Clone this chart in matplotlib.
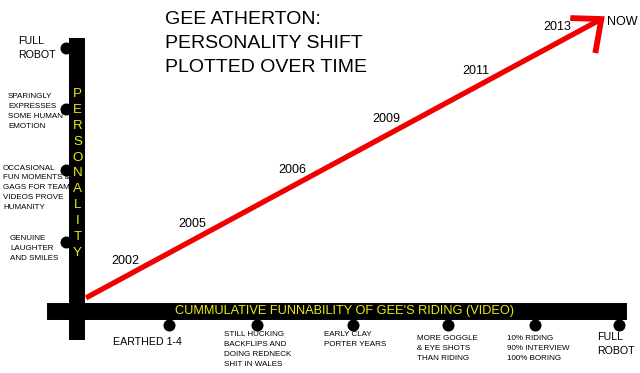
import matplotlib
matplotlib.use("Agg")
import matplotlib.pyplot as plt
from matplotlib.transforms import ScaledTranslation

plt.rcParams["font.family"] = ["Liberation Sans", "DejaVu Sans"]

# --- data ------------------------------------------------------------------
stage_labels = ["EARTHED 1-4",
                "STILL HUCKING\nBACKFLIPS AND\nDOING REDNECK\nSHIT IN WALES",
                "EARLY CLAY\nPORTER YEARS",
                "MORE GOGGLE\n& EYE SHOTS\nTHAN RIDING",
                "10% RIDING\n90% INTERVIEW\n100% BORING",
                "FULL\nROBOT"]
stage_values = [1.02, 1.99, 3.05, 4.10, 5.07, 6.0]

level_labels = ["GENUINE\nLAUGHTER\nAND SMILES",
                "OCCASIONAL\nFUN MOMENTS &\nGAGS FOR TEAM\nVIDEOS PROVE\nHUMANITY",
                "SPARINGLY\nEXPRESSES\nSOME HUMAN\nEMOTION",
                "FULL\nROBOT"]
level_values = [1.05, 2.14, 3.07, 4.0]

years = ["2002", "2005", "2006", "2009", "2011", "2013"]
year_funnability = [0.53, 1.28, 2.38, 3.42, 4.41, 5.31]

trend_funnability = [0.10, 5.80]
trend_personality = [0.20, 4.44]

title = "GEE ATHERTON:\nPERSONALITY SHIFT\nPLOTTED OVER TIME"
x_title = "CUMMULATIVE FUNNABILITY OF GEE'S RIDING (VIDEO)"
y_title = "PERSONALITY"

# --- layout -----------------------------------------------------------------
W, H = 640, 373
fig = plt.figure(figsize=(W / 100, H / 100), dpi=100)
ax = fig.add_axes([0, 0, 1, 1])
ax.axis("off")
# origin of the chart at pixel (77, 311); 90.4 px per stage, 65.75 px per level
ax.set_xlim(-77 / 90.4, (W - 77) / 90.4)
ax.set_ylim((311 - H) / 65.75, 311 / 65.75)

YELLOW = "#ecec10"
RED = "#f20000"


def fpos(px, py):
    return px / W, 1 - py / H


def block(lines, px, py, dy, size, **kw):
    for i, s in enumerate(lines.split("\n")):
        fig.text(*fpos(px, py + i * dy), s, fontsize=size, va="center",
                 transform=fig.transFigure, **kw)


# black axis bars
ax.plot([0, 0], [-0.32, level_values[-1] + 0.03], color="black", lw=11.5,
        solid_capstyle="projecting", zorder=2)
ax.plot([-0.24, stage_values[-1] - 0.02], [0, 0], color="black", lw=12.2,
        solid_capstyle="projecting", zorder=2)

# tick dots
off_left = ax.transData + ScaledTranslation(-0.11, 0, fig.dpi_scale_trans)
off_down = ax.transData + ScaledTranslation(0, -0.14, fig.dpi_scale_trans)
ax.scatter([0] * len(level_values), level_values, s=75, color="black",
           transform=off_left, zorder=2, linewidths=0)
ax.scatter(stage_values, [0] * len(stage_values), s=75, color="black",
           transform=off_down, zorder=2, linewidths=0)

# red trend line with hand-drawn arrow head
ax.plot(trend_funnability, trend_personality, color=RED, lw=3.8,
        solid_capstyle="butt", zorder=3)
fig.canvas.draw()
tip = ax.transData.transform((trend_funnability[-1], trend_personality[-1]))
inv = ax.transData.inverted()
arm1 = inv.transform(tip + (-31, 1))
arm2 = inv.transform(tip + (-6, -34))
tipd = (trend_funnability[-1], trend_personality[-1])
ax.plot([arm1[0], tipd[0], arm2[0]], [arm1[1], tipd[1], arm2[1]],
        color=RED, lw=4.2, solid_joinstyle="miter", solid_capstyle="butt",
        zorder=3)

# year labels above the line
slope = (trend_personality[1] - trend_personality[0]) / (trend_funnability[1] - trend_funnability[0])
for yr, xf in zip(years, year_funnability):
    yl = trend_personality[0] + slope * (xf - trend_funnability[0])
    ax.annotate(yr, (xf, yl), xytext=(0, 16), textcoords="offset pixels",
                ha="center", va="center", fontsize=9)
fig.text(*fpos(607, 22), "NOW", fontsize=9, va="center")

# title
block(title, 165, 19.5, 24, 14)

# axis titles in yellow
fig.text(*fpos(345, 311), x_title, fontsize=9.2, color=YELLOW,
         ha="center", va="center")
for i, ch in enumerate(y_title):
    fig.text(*fpos(77.5, 94 + i * 15.9), ch, fontsize=9.6, color=YELLOW,
             ha="center", va="center")

# level labels (left)
level_pos = [(10, 238, 10, 5.8), (3, 168, 9.8, 5.8), (8, 97, 10, 5.8),
             (18, 41, 13.5, 7.7)]
for lab, (px, py, dy, sz) in zip(level_labels, level_pos):
    block(lab, px, py, dy, sz)

# stage labels (bottom)
stage_pos = [(113, 342, 10, 7.7), (224, 335, 10, 5.8), (324, 335, 10, 5.8),
             (417, 338, 10, 5.8), (507, 338, 10, 5.8), (597, 337, 14, 7.7)]
for lab, (px, py, dy, sz) in zip(stage_labels, stage_pos):
    block(lab, px, py, dy, sz)

fig.savefig("out.png", dpi=100)
